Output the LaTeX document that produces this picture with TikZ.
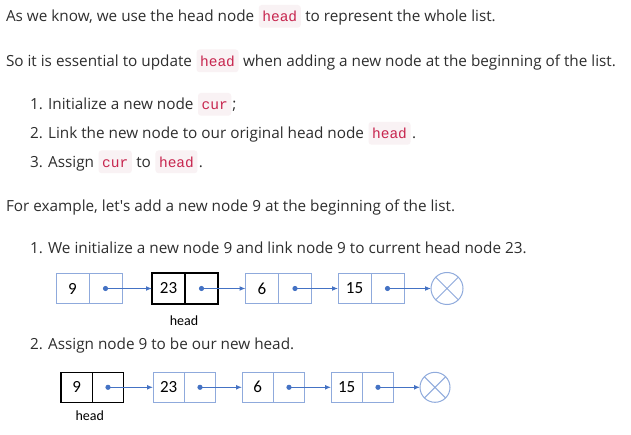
\documentclass[tikz,border=0pt]{standalone}
\usepackage{fontspec}
\setmainfont{Open Sans}
\newfontfamily\apfont{Open Sans}
\newfontfamily\codefont{Liberation Mono}
\newfontfamily\diafont{Carlito}
\usetikzlibrary{arrows.meta}
\definecolor{txtc}{HTML}{2E2E2E}
\definecolor{codec}{HTML}{C7254E}
\definecolor{codebg}{HTML}{F9F2F4}
\definecolor{lightb}{HTML}{8FAADC}
\definecolor{arrowb}{HTML}{4472C4}
\begin{document}
\begin{tikzpicture}[x=1pt,y=-1pt,
  txt/.style={anchor=base west, inner sep=0pt, outer sep=0pt, text=txtc, font=\fontsize{15.3}{18}\selectfont},
  codebox/.style={anchor=base west, inner xsep=3.6pt, inner ysep=0pt, outer sep=0pt, text height=17pt, text depth=5.7pt, fill=codebg, rounded corners=3pt, text=codec, font=\codefont\fontsize{14.5}{17}\selectfont},
  cellL/.style={draw=lightb, line width=1pt, inner sep=0pt, outer sep=0pt, minimum width=33pt, minimum height=30.5pt, font=\diafont\fontsize{17}{19}\selectfont, text=black},
  cellH/.style={cellL, draw=black, line width=1.6pt},
  cellL2/.style={cellL, minimum width=31.3pt, minimum height=30pt},
  cellH2/.style={cellL2, draw=black, line width=1.6pt},
  nullc/.style={circle, draw=lightb, line width=1pt, inner sep=0pt, outer sep=0pt},
  arr/.style={draw=arrowb, line width=1.5pt, -{Latex[length=6pt,width=5pt]}},
  dotc/.style={fill=arrowb},
  lbl/.style={anchor=base, inner sep=0pt, font=\diafont\fontsize{14}{16}\selectfont, text=black}
]
\fill[white] (0,0) rectangle (631,435);
\useasboundingbox (0,0) rectangle (631,435);

% paragraph 1
\node[txt] (l1a) at (6,22) {As we know, we use the head node};
\node[codebox] (l1b) at ([xshift=4.5pt]l1a.base east) {head};
\node[txt] (l1c) at ([xshift=4.5pt]l1b.base east) {to represent the whole list.};

% paragraph 2
\node[txt] (l2a) at (6,66.5) {So it is essential to update};
\node[codebox] (l2b) at ([xshift=4.5pt]l2a.base east) {head};
\node[txt] (l2c) at ([xshift=4.5pt]l2b.base east) {when adding a new node at the beginning of the list.};

% list 1
\node[txt] (l3a) at (30,110) {1. Initialize a new node};
\node[codebox] (l3b) at ([xshift=4.5pt]l3a.base east) {cur};
\node[txt] (l3c) at ([xshift=1pt]l3b.base east) {;};

\node[txt] (l4a) at (30,139) {2. Link the new node to our original head node};
\node[codebox] (l4b) at ([xshift=4.5pt]l4a.base east) {head};
\node[txt] (l4c) at ([xshift=1.5pt]l4b.base east) {.};

\node[txt] (l5a) at (30,167.5) {3. Assign};
\node[codebox] (l5b) at ([xshift=4.5pt]l5a.base east) {cur};
\node[txt] (l5c) at ([xshift=4.5pt]l5b.base east) {to};
\node[codebox] (l5e) at ([xshift=4.5pt]l5c.base east) {head};
\node[txt] (l5f) at ([xshift=1.5pt]l5e.base east) {.};

% example
\node[txt] (l6) at (6,212) {For example, let{\apfont'}s add a new node 9 at the beginning of the list.};
\node[txt] (l7) at (30,253.5) {1. We initialize a new node 9 and link node 9 to current head node 23.};
\node[txt] (l8) at (30,349.5) {2. Assign node 9 to be our new head.};

% diagram 1
\node[cellL] (a1v) at (72.5,288.5) {9};
\node[cellL, anchor=west] (a1p) at (a1v.east) {};
\node[cellH] (b1v) at (168.5,288.5) {23};
\node[cellH, anchor=west] (b1p) at (b1v.east) {};
\node[cellL] (c1v) at (262,288.5) {6};
\node[cellL, anchor=west] (c1p) at (c1v.east) {};
\node[cellL] (d1v) at (354.5,288.5) {15};
\node[cellL, anchor=west] (d1p) at (d1v.east) {};
\node[nullc, minimum size=32pt] (n1) at (447,288.5) {};
\draw[lightb, line width=1pt] (n1.north west) -- (n1.south east) (n1.north east) -- (n1.south west);
\draw[arr] (a1p.center) -- (b1v.west);
\draw[arr] (b1p.center) -- (c1v.west);
\draw[arr] (c1p.center) -- (d1v.west);
\draw[arr] (d1p.center) -- (n1.west);
\fill[dotc] (a1p.center) circle (2.6pt) (b1p.center) circle (2.6pt) (c1p.center) circle (2.6pt) (d1p.center) circle (2.6pt);
\node[lbl] (h1) at (184,325) {head};

% diagram 2
\node[cellH2] (a2v) at (76.7,387.3) {9};
\node[cellH2, anchor=west] (a2p) at (a2v.east) {};
\node[cellL2] (b2v) at (168.7,387.3) {23};
\node[cellL2, anchor=west] (b2p) at (b2v.east) {};
\node[cellL2] (c2v) at (257.7,387.3) {6};
\node[cellL2, anchor=west] (c2p) at (c2v.east) {};
\node[cellL2] (d2v) at (346.7,387.3) {15};
\node[cellL2, anchor=west] (d2p) at (d2v.east) {};
\node[nullc, minimum size=30pt] (n2) at (435,387.3) {};
\draw[lightb, line width=1pt] (n2.north west) -- (n2.south east) (n2.north east) -- (n2.south west);
\draw[arr] (a2p.center) -- (b2v.west);
\draw[arr] (b2p.center) -- (c2v.west);
\draw[arr] (c2p.center) -- (d2v.west);
\draw[arr] (d2p.center) -- (n2.west);
\fill[dotc] (a2p.center) circle (2.6pt) (b2p.center) circle (2.6pt) (c2p.center) circle (2.6pt) (d2p.center) circle (2.6pt);
\node[lbl] (h2) at (89.7,420.5) {head};
\end{tikzpicture}
\end{document}
